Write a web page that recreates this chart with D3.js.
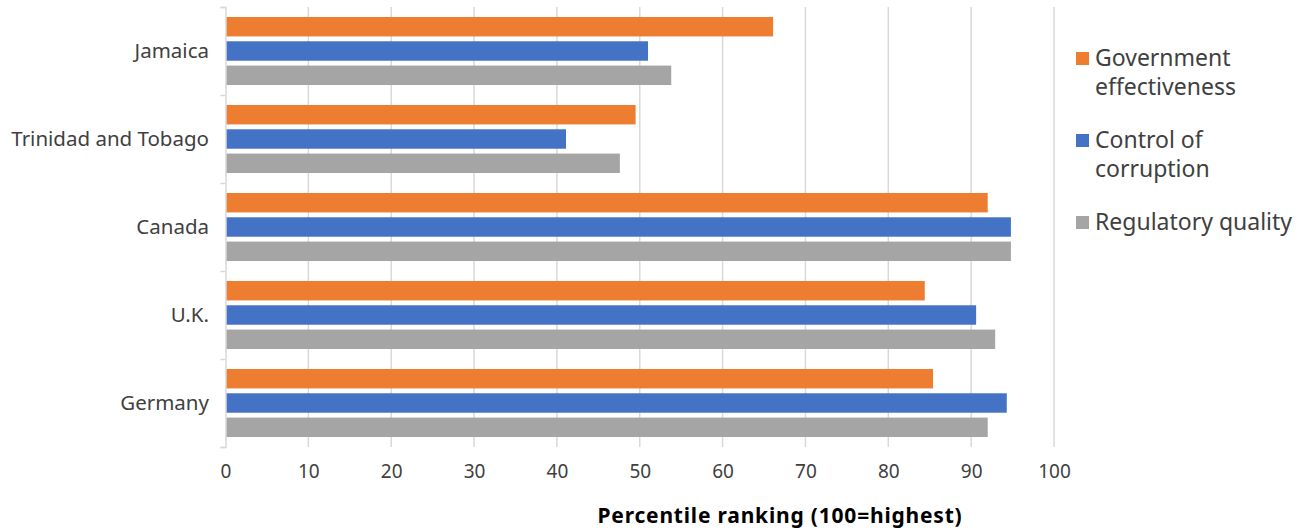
<!DOCTYPE html>
<html>
<head>
<meta charset="utf-8">
<script src="https://cdn.jsdelivr.net/npm/d3@7"></script>
<style>
  body { margin: 0; background: #fff; }
  text { font-family: "Noto Sans", sans-serif; }
</style>
</head>
<body>
<div id="chart"></div>
<script>
// Chart data
var countries = ["Jamaica", "Trinidad and Tobago", "Canada", "U.K.", "Germany"];
var seriesNames = ["Government effectiveness", "Control of corruption", "Regulatory quality"];
var govEffectiveness = [66.1, 49.5, 92.0, 84.4, 85.4];
var controlCorruption = [51.0, 41.1, 94.8, 90.6, 94.3];
var regulatoryQuality = [53.8, 47.6, 94.8, 92.9, 92.0];
var xTicks = [0, 10, 20, 30, 40, 50, 60, 70, 80, 90, 100];
var legendLines = [["Government", "effectiveness"], ["Control of", "corruption"], ["Regulatory quality"]];
var colors = ["#ED7D31", "#4472C4", "#A5A5A5"];

var width = 1298;
var height = 531;
var margin = { top: 7, right: 244, bottom: 84, left: 225.5 };

var svg = d3.select("#chart")
    .append("svg")
    .attr("width", width)
    .attr("height", height);

var x = d3.scaleLinear()
    .domain([0, 100])
    .range([margin.left, width - margin.right]);

var y = d3.scaleBand()
    .domain(countries)
    .range([margin.top, height - margin.bottom])
    .paddingInner(0.227)
    .paddingOuter(0.1135);

var ySub = d3.scaleBand()
    .domain(seriesNames)
    .range([0, y.bandwidth()])
    .paddingInner(0.2);

// Gridlines
svg.append("g")
    .selectAll("line")
    .data(xTicks.slice(1))
    .enter()
    .append("line")
    .attr("x1", function (d) { return x(d); })
    .attr("x2", function (d) { return x(d); })
    .attr("y1", margin.top)
    .attr("y2", height - margin.bottom)
    .attr("stroke", "#d9d9d9")
    .attr("stroke-width", 1.5);

// Bars
var table = countries.map(function (c, i) {
    return { country: c, values: [govEffectiveness[i], controlCorruption[i], regulatoryQuality[i]] };
});

var groups = svg.append("g")
    .selectAll("g")
    .data(table)
    .enter()
    .append("g")
    .attr("transform", function (d) { return "translate(0," + y(d.country) + ")"; });

groups.selectAll("rect")
    .data(function (d) {
        return d.values.map(function (v, k) { return { series: seriesNames[k], value: v, k: k }; });
    })
    .enter()
    .append("rect")
    .attr("x", x(0) + 0.5)
    .attr("y", function (d) { return ySub(d.series); })
    .attr("height", ySub.bandwidth())
    .attr("width", function (d) { return x(d.value) - x(0) - 0.5; })
    .attr("fill", function (d) { return colors[d.k]; });

// Y axis
var yAxisLine = d3.scaleLinear().domain([0, countries.length]).range([margin.top, height - margin.bottom]);
var yAxis = svg.append("g")
    .attr("transform", "translate(" + x(0) + ",0)")
    .call(d3.axisLeft(yAxisLine).tickValues(d3.range(countries.length + 1)).tickSize(5).tickFormat(""));
yAxis.select(".domain").attr("stroke", "#d9d9d9").attr("stroke-width", 1.5);
yAxis.selectAll(".tick line").attr("stroke", "#d9d9d9").attr("stroke-width", 1.5);

// Category labels
svg.append("g")
    .selectAll("text")
    .data(countries)
    .enter()
    .append("text")
    .attr("x", 209)
    .attr("y", function (d) { return y(d) + y.bandwidth() / 2; })
    .attr("dy", "0.35em")
    .attr("text-anchor", "end")
    .attr("fill", "#404040")
    .style("font-size", "20.5px")
    .text(function (d) { return d; });

// X axis labels
var xAxis = svg.append("g")
    .attr("transform", "translate(0," + (height - margin.bottom) + ")")
    .call(d3.axisBottom(x).tickValues(xTicks).tickSize(0).tickPadding(18));
xAxis.select(".domain").remove();
xAxis.selectAll("text")
    .attr("fill", "#404040")
    .style("font-size", "19px")
    .style("font-family", "'Noto Sans', sans-serif");

// Axis title
svg.append("text")
    .attr("x", 780)
    .attr("y", 523)
    .attr("text-anchor", "middle")
    .attr("fill", "#000")
    .style("font-size", "21px")
    .style("letter-spacing", "0.8px")
    .style("font-weight", "bold")
    .text("Percentile ranking (100=highest)");

// Legend
var legendTop = [58, 140, 222];
var legend = svg.append("g")
    .selectAll("g")
    .data(legendLines)
    .enter()
    .append("g")
    .attr("transform", function (d, i) { return "translate(1076," + legendTop[i] + ")"; });

legend.append("rect")
    .attr("x", 0)
    .attr("y", -6)
    .attr("width", 13)
    .attr("height", 13)
    .attr("fill", function (d, i) { return colors[i]; });

legend.append("text")
    .attr("x", 19)
    .attr("fill", "#404040")
    .style("font-size", "23px")
    .selectAll("tspan")
    .data(function (d) { return d; })
    .enter()
    .append("tspan")
    .attr("x", 19)
    .attr("y", function (d, j) { return j * 29; })
    .attr("dy", "0.35em")
    .text(function (d) { return d; });
</script>
</body>
</html>
